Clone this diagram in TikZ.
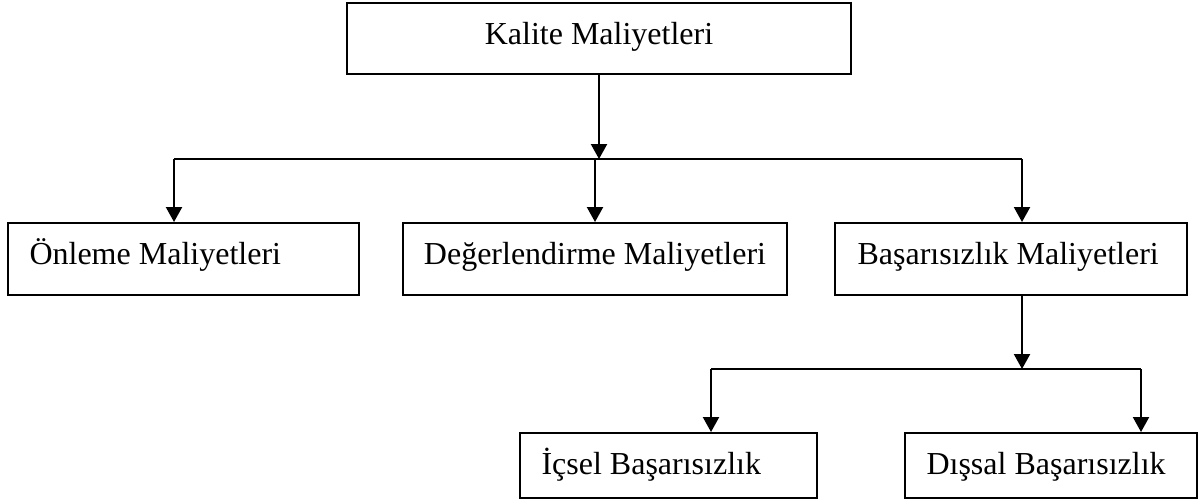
\documentclass[tikz,border=0pt]{standalone}
\usepackage{fontspec}
\setmainfont{Liberation Serif}
\usetikzlibrary{arrows.meta}

\begin{document}
\begin{tikzpicture}[x=0.375pt,y=-0.375pt,
		box/.style={draw,line width=0.75pt,inner sep=0pt},
		lbl/.style={inner sep=0pt,font=\fontsize{12}{14}\selectfont},
		arr/.style={line width=0.75pt,-{Triangle[width=6pt,length=5.6pt]}}]
				\useasboundingbox (0,0) rectangle (1201,503);
				\foreach \n/\x/\y/\w/\h in
				{K/599/38.5/504/71, O/183.5/259/351/72, D/595/259/384/72,
				 B/1011/259/352/72, I/668.5/465.5/297/65, S/1051/465.5/292/65}{
					\node[box,minimum width=\w*0.375pt,minimum height=\h*0.375pt] (\n) at (\x,\y) {};
				}
				
				% texts
				\node[lbl,anchor=base] (Kt) at (599,44) {Kalite Maliyetleri};
				\node[lbl,anchor=base west] (Ot) at (29,264) {Önleme Maliyetleri};
				\node[lbl,anchor=base] (Dt) at (595,264) {Değerlendirme Maliyetleri};
				\node[lbl,anchor=base west] (Bt) at (857,264) {Başarısızlık Maliyetleri};
				\node[lbl,anchor=base west] (It) at (541,474) {İçsel Başarısızlık};
				\node[lbl,anchor=base west] (St) at (926,474) {Dışsal Başarısızlık};
				
				% branch lines
				\coordinate (L1) at (174,159);
				\coordinate (R1) at (1022,159);
				\coordinate (L2) at (711,369);
				\coordinate (R2) at (1141,369);
				\draw[line width=0.75pt] (L1) -- (R1);
				\draw[line width=0.75pt] (L2) -- (R2);
				
				\draw[arr] (K.south) -- (K.south |- L1);
				\foreach \a/\b in {L1/O, R1/B, L2/I, R2/S}{
					\draw[arr] (\a) -- (\a |- \b.north);
				}
				\draw[arr] (D.north |- L1) -- (D.north);
				\draw[arr] (R1 |- B.south) -- (R1 |- L2);
			\end{tikzpicture}
\end{document}
